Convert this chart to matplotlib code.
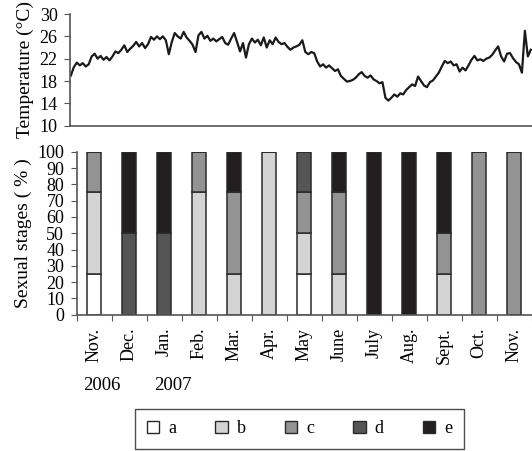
import numpy as np
import matplotlib
matplotlib.use("Agg")
import matplotlib.pyplot as plt

plt.rcParams['font.family'] = ['Liberation Serif', 'DejaVu Serif']

# temperature record (roughly every 3 px)
temps = [
    19.0, 20.5, 21.3, 20.8, 21.2, 20.6, 21.0, 22.4, 22.9, 22.0,
    22.5, 21.8, 22.3, 21.7, 22.4, 23.3, 23.0, 23.6, 24.4, 23.2,
    23.8, 24.3, 25.0, 24.2, 24.8, 23.9, 24.6, 25.9, 25.4, 26.0,
    25.5, 26.0, 25.3, 22.8, 25.0, 26.6, 26.0, 25.6, 26.8, 25.8,
    25.2, 24.5, 23.2, 26.2, 26.8, 25.6, 26.1, 25.2, 25.6, 25.1,
    25.5, 25.9, 24.8, 24.5, 25.6, 26.6, 25.0, 23.3, 24.8, 22.2,
    24.6, 25.6, 24.9, 25.4, 24.4, 25.8, 24.0, 25.3, 24.6, 25.8,
    25.0, 24.6, 24.8, 24.1, 23.6, 24.0, 24.2, 24.5, 25.3, 23.2,
    22.8, 23.2, 23.0, 21.5, 20.6, 21.0, 20.4, 20.8, 20.3, 19.8,
    20.1, 18.9, 18.4, 17.9, 18.0, 18.2, 18.6, 19.2, 19.6, 18.9,
    18.6, 19.0, 18.3, 18.0, 17.6, 17.8, 15.0, 14.5, 15.0, 15.6,
    15.2, 15.8, 15.6, 16.4, 16.9, 17.4, 17.1, 18.8, 18.0, 17.2,
    16.9, 17.8, 18.1, 18.8, 19.5, 20.6, 21.6, 21.2, 21.5, 20.8,
    21.0, 19.7, 20.4, 19.9, 20.8, 21.8, 22.5, 21.7, 21.9, 21.6,
    22.0, 22.2, 22.7, 23.5, 24.2, 22.4, 21.5, 22.9, 23.0, 22.1,
    21.4, 21.0, 19.5, 27.0, 22.4, 23.6,
]

months = ["Nov.", "Dec.", "Jan.", "Feb.", "Mar.", "Apr.", "May", "June",
          "July", "Aug.", "Sept.", "Oct.", "Nov."]
stage_names = ["a", "b", "c", "d", "e"]
stage_a = [25, 0, 0, 0, 0, 0, 25, 0, 0, 0, 0, 0, 0]
stage_b = [50, 0, 0, 75, 25, 100, 25, 25, 0, 0, 25, 0, 0]
stage_c = [25, 0, 0, 25, 50, 0, 25, 50, 0, 0, 25, 100, 100]
stage_d = [0, 50, 50, 0, 0, 0, 25, 0, 0, 0, 0, 0, 0]
stage_e = [0, 50, 50, 0, 25, 0, 0, 25, 100, 100, 50, 0, 0]
stage_colors = ["#ffffff", "#d4d4d4", "#939393", "#555555", "#231f20"]

fig = plt.figure(figsize=(5.32, 4.51), dpi=100)
axis_col = "#555555"

# --- temperature panel
ax1 = fig.add_axes([0.1316, 0.7213, 0.8684, 0.2476])
ax1.plot(np.arange(len(temps)), temps, color="#1a1a1a", lw=1.6)
ax1.set_xlim(-0.3, len(temps) - 0.6)
ax1.set_ylim(10, 30)
ax1.set_yticks([10, 14, 18, 22, 26, 30])
ax1.set_xticks([])
ax1.set_ylabel("Temperature (°C)", fontsize=14, labelpad=4)
for s in ["top", "right"]:
    ax1.spines[s].set_visible(False)
for s in ["left", "bottom"]:
    ax1.spines[s].set_color(axis_col)
    ax1.spines[s].set_linewidth(1.2)
ax1.tick_params(axis="y", direction="out", length=4, color=axis_col,
                labelsize=13, pad=5)

# --- sexual stages panel
ax2 = fig.add_axes([0.1442, 0.3022, 0.8553, 0.3614])
x = np.arange(len(months))
bottom = np.zeros(len(months))
stages = [stage_a, stage_b, stage_c, stage_d, stage_e]
for name, vals, col in zip(stage_names, stages, stage_colors):
    ax2.bar(x, vals, 0.4, bottom=bottom, color=col, edgecolor="#2a2a2a",
            linewidth=1.1, label=name)
    bottom += np.array(vals)
ax2.set_xlim(-0.5, len(months) - 0.5)
ax2.set_ylim(0, 100)
ax2.set_yticks(range(0, 101, 10))
ax2.set_xticks(np.arange(len(months) + 1) - 0.5, minor=False)
ax2.set_xticklabels([])
ax2.tick_params(axis="x", direction="out", length=4, color=axis_col)
ax2.tick_params(axis="y", direction="out", length=4, color=axis_col,
                labelsize=13, pad=5)
for i, m in enumerate(months):
    ax2.text(i, -8, m, rotation=90, ha="center", va="top", fontsize=13)
ax2.text(0.21, -38.5, "2006", ha="center", va="top", fontsize=13.5)
ax2.text(2.26, -38.5, "2007", ha="center", va="top", fontsize=13.5)
ax2.set_ylabel("Sexual stages ( % )", fontsize=14, labelpad=4)
for s in ["top", "right"]:
    ax2.spines[s].set_visible(False)
for s in ["left", "bottom"]:
    ax2.spines[s].set_color(axis_col)
    ax2.spines[s].set_linewidth(1.2)

leg = fig.legend(loc="center", bbox_to_anchor=(0.563, 0.0488), ncol=5,
                 fontsize=13, frameon=True, fancybox=False, handlelength=0.7,
                 handleheight=0.7, columnspacing=2.15, handletextpad=0.5,
                 borderpad=0.65, borderaxespad=0)
leg.get_frame().set_edgecolor("#222222")
leg.get_frame().set_linewidth(1.0)
for h in leg.legend_handles:
    h.set_linewidth(1.0)

fig.savefig("out.png", dpi=100)
